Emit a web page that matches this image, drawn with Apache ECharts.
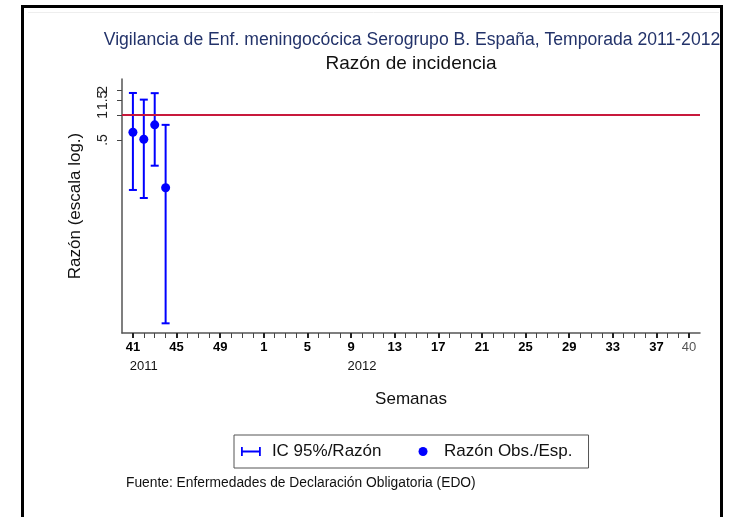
<!DOCTYPE html>
<html>
<head>
<meta charset="utf-8">
<script src="https://cdn.jsdelivr.net/npm/echarts@6/dist/echarts.min.js"></script>
<style>
  html, body { margin: 0; padding: 0; background: #fff; }
  #chart { width: 729px; height: 517px; }
</style>
</head>
<body>
<div id="chart"></div>
<script>
// semanas de la temporada: 41-52 de 2011, 1-40 de 2012 (posicion = indice)
const weeks = [41, 42, 43, 44, 45, 46, 47, 48, 49, 50, 51, 52,
  1, 2, 3, 4, 5, 6, 7, 8, 9, 10, 11, 12, 13, 14, 15, 16, 17, 18, 19, 20,
  21, 22, 23, 24, 25, 26, 27, 28, 29, 30, 31, 32, 33, 34, 35, 36, 37, 38, 39, 40]
const labelIdx = [0, 4, 8, 12, 16, 20, 24, 28, 32, 36, 40, 44, 48, 51]
const yearIdx = [1, 21]
const yearLabels = ['2011', '2012']

// razon observada/esperada e IC 95%
const obsIdx = [0, 1, 2, 3]
const ratio = [0.62, 0.51, 0.76, 0.133]
const ciLow = [0.125, 0.10, 0.245, 0.0031]
const ciHigh = [1.84, 1.53, 1.83, 0.76]

// ticks del eje y (el 1.5 va en un segundo eje porque se solapa)
const yTickValues = [0.5, 1, 2]
const yTickLabels = ['.5', '1', '2']
const yTickValues2 = [1.5]
const yTickLabels2 = ['1.5']

const allIdx = weeks.map((w, i) => i)
const blue = '#0000ff'
const font = '"Liberation Sans", Arial, sans-serif'

function pickLabel(values, labels) {
  return (v) => {
    let best = 0
    values.forEach((t, i) => { if (Math.abs(t - v) < Math.abs(values[best] - v)) best = i })
    return labels[best]
  }
}

const chart = echarts.init(document.getElementById('chart'))

const yBase = {
  type: 'log', logBase: 10, min: 0.00237, max: 2.71, position: 'left', offset: 0,
  splitLine: { show: false },
}

chart.setOption({
  backgroundColor: '#fff',
  animation: false,
  textStyle: { fontFamily: font },
  title: [
    {
      text: 'Vigilancia de Enf. meningocócica Serogrupo B. España, Temporada 2011-2012',
      left: 412, top: 31, padding: 0, textAlign: 'center',
      textStyle: { fontSize: 17.6, fontWeight: 'normal', color: '#23336a', fontFamily: font },
    },
    {
      text: 'Razón de incidencia',
      left: 411, top: 54, padding: 0, textAlign: 'center',
      textStyle: { fontSize: 19, fontWeight: 'normal', color: '#111', fontFamily: font },
    },
  ],
  legend: {
    left: 234, top: 435,
    padding: [8, 16, 8, 7],
    itemGap: 37,
    itemWidth: 22, itemHeight: 9,
    borderColor: '#555', borderWidth: 1,
    textStyle: { fontSize: 17, color: '#111', fontFamily: font, padding: [0, 0, 0, 5] },
    data: [
      { name: 'IC 95%/Razón', icon: 'path://M0,0h2v10h-2z M2,4h18v2h-18z M20,0h2v10h-2z' },
      { name: 'Razón Obs./Esp.', icon: 'circle' },
    ],
  },
  grid: { left: 122, right: 29, top: 79, bottom: 184 },
  xAxis: [
    {
      type: 'value', min: -1, max: 52,
      name: 'Semanas', nameLocation: 'middle', nameGap: 58,
      nameTextStyle: { fontSize: 17, color: '#111', fontFamily: font },
      splitLine: { show: false },
      axisLine: { onZero: false, lineStyle: { color: '#555', width: 1.5 } },
      axisTick: { customValues: allIdx, length: 5, lineStyle: { color: '#444', width: 1 } },
      axisLabel: {
        customValues: labelIdx, margin: 8, hideOverlap: false,
        formatter: (v) => {
          const i = Math.round(v)
          return i === weeks.length - 1 ? `{g|${weeks[i]}}` : `{b|${weeks[i]}}`
        },
        rich: {
          b: { fontSize: 13, fontWeight: 'bold', color: '#000', fontFamily: font },
          g: { fontSize: 13, fontWeight: 'normal', color: '#555', fontFamily: font },
        },
      },
    },
    {
      type: 'value', min: -1, max: 52, position: 'bottom',
      splitLine: { show: false },
      axisLine: { show: false, onZero: false },
      axisTick: { customValues: labelIdx, length: 5, lineStyle: { color: '#222', width: 2 } },
      axisLabel: {
        customValues: yearIdx, margin: 27, hideOverlap: false,
        fontSize: 13, color: '#111', fontFamily: font,
        formatter: (v) => yearLabels[yearIdx.indexOf(Math.round(v))] || '',
      },
    },
  ],
  yAxis: [
    {
      ...yBase,
      name: 'Razón (escala log.)', nameLocation: 'middle', nameGap: 38, nameRotate: 90,
      nameTextStyle: { fontSize: 17, color: '#111', fontFamily: font },
      axisLine: { show: true, onZero: false, lineStyle: { color: '#555', width: 1.5 } },
      axisTick: { show: true, customValues: yTickValues, length: 5, lineStyle: { color: '#444' } },
      axisLabel: {
        customValues: yTickValues, rotate: 90, margin: 12, hideOverlap: false,
        fontSize: 14, color: '#222', fontFamily: font,
        formatter: pickLabel(yTickValues, yTickLabels),
      },
    },
    {
      ...yBase,
      axisLine: { show: false, onZero: false },
      axisTick: { show: true, customValues: yTickValues2, length: 5, lineStyle: { color: '#444' } },
      axisLabel: {
        customValues: yTickValues2, rotate: 90, margin: 12, hideOverlap: false,
        fontSize: 14, color: '#222', fontFamily: font,
        formatter: pickLabel(yTickValues2, yTickLabels2),
      },
    },
  ],
  series: [
    {
      name: 'IC 95%/Razón',
      type: 'custom',
      itemStyle: { color: blue },
      data: obsIdx.map((x, i) => [x, ciLow[i], ciHigh[i]]),
      renderItem: (params, api) => {
        const lo = api.coord([api.value(0), api.value(1)])
        const hi = api.coord([api.value(0), api.value(2)])
        const hw = 4
        const style = { stroke: blue, lineWidth: 2 }
        return {
          type: 'group',
          children: [
            { type: 'line', shape: { x1: lo[0], y1: lo[1], x2: hi[0], y2: hi[1] }, style },
            { type: 'line', shape: { x1: lo[0] - hw, y1: lo[1], x2: lo[0] + hw, y2: lo[1] }, style },
            { type: 'line', shape: { x1: hi[0] - hw, y1: hi[1], x2: hi[0] + hw, y2: hi[1] }, style },
          ],
        }
      },
      z: 2,
    },
    {
      name: 'Razón Obs./Esp.',
      type: 'scatter',
      symbol: 'circle',
      symbolSize: 9,
      itemStyle: { color: blue, opacity: 1 },
      data: obsIdx.map((x, i) => [x, ratio[i]]),
      z: 3,
      markLine: {
        silent: true,
        symbol: 'none',
        label: { show: false },
        lineStyle: { color: '#c8193c', width: 2, type: 'solid' },
        data: [{ yAxis: 1 }],
      },
    },
  ],
  graphic: [
    {
      type: 'line', silent: true,
      shape: { x1: 28, y1: 12.5, x2: 719, y2: 12.5 },
      style: { stroke: '#eeeeee', lineWidth: 1 },
    },
    {
      type: 'rect', silent: true,
      shape: { x: 22.5, y: 6.5, width: 699, height: 530 },
      style: { fill: 'none', stroke: '#000', lineWidth: 3 },
    },
    {
      type: 'text', left: 126, top: 476, silent: true,
      style: { text: 'Fuente: Enfermedades de Declaración Obligatoria (EDO)', fill: '#111', font: `13.8px ${font}` },
    },
  ],
})
</script>
</body>
</html>
